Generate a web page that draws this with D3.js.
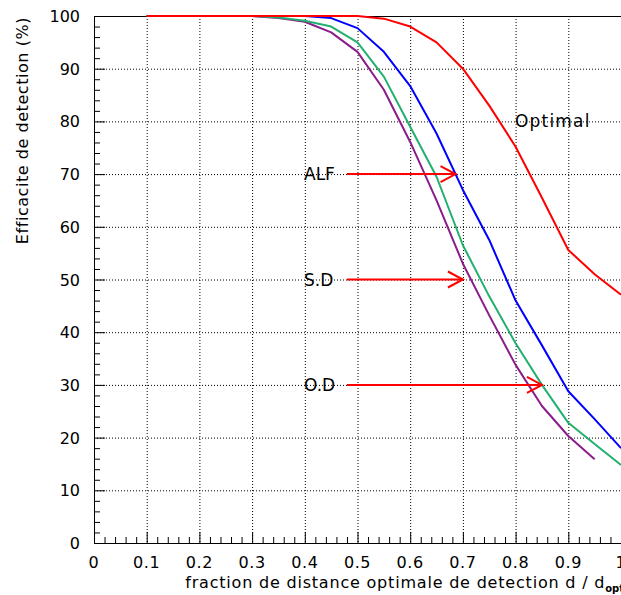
<!DOCTYPE html>
<html><head><meta charset="utf-8">
<script src="https://cdn.jsdelivr.net/npm/d3@7"></script>
<style>body{margin:0;background:#fff}svg{display:block}text{font-family:"DejaVu Sans",sans-serif}</style>
</head><body>
<script>
const fractions = [0.1,0.15,0.2,0.25,0.3,0.35,0.4,0.45,0.5,0.55,0.6,0.65,0.7,0.75,0.8,0.85,0.9,0.95,1.0];
const optimal = [100,100,100,100,100,100,100,100,100,99.5,98,95,90,83,75.2,65.5,55.6,51,47.1];
const alf     = [100,100,100,100,100,100,100,99.6,97.7,93.2,86.7,77.7,67,57.5,46,37.5,28.8,23.5,18];
const sd      = [100,100,100,100,100,99.7,99.1,98,95,88.5,79,69.5,56.5,46.8,37.9,30,22.8,18.8,14.8];
const od      = [100,100,100,100,100,99.6,98.9,96.9,93.2,86,76.1,65,53,43.2,33.8,26,20.3,15.9];
const xTicks = [0,0.1,0.2,0.3,0.4,0.5,0.6,0.7,0.8,0.9,1];
const yTicks = [0,10,20,30,40,50,60,70,80,90,100];
const annotations = [
  {label:"ALF", value:70, from:0.48, to:0.686},
  {label:"S.D", value:50, from:0.48, to:0.70},
  {label:"O.D", value:30, from:0.48, to:0.85}
];

const W=621,H=595, L=94, R=621, T=16, B=543;
const svg=d3.select("body").append("svg").attr("width",W).attr("height",H);
const x=d3.scaleLinear().domain([0,1]).range([L,R]);
const y=d3.scaleLinear().domain([0,100]).range([B,T]);

// grid
const g=svg.append("g").attr("stroke","#000").attr("stroke-width",1).attr("stroke-dasharray","1 2");
xTicks.filter(t=>t>0&&t<1).forEach(t=>g.append("line").attr("x1",x(t)+0.5).attr("x2",x(t)+0.5).attr("y1",T).attr("y2",B));
yTicks.filter(t=>t>0&&t<100).forEach(t=>g.append("line").attr("y1",y(t)+0.5).attr("y2",y(t)+0.5).attr("x1",L).attr("x2",R));

// axes
const xa=svg.append("g").attr("transform",`translate(0,${B})`);
xa.selectAll("line.t").data(d3.range(0,51)).join("line")
  .attr("x1",i=>x(i/50)+0.5).attr("x2",i=>x(i/50)+0.5)
  .attr("y1",0).attr("y2",i=>i%5===0?-11:-6).attr("stroke","#000");
xa.selectAll("text").data(xTicks).join("text")
  .attr("x",d=>x(d)).attr("y",25).attr("text-anchor","middle").attr("font-size",16).attr("letter-spacing",0.6)
  .text(d=>d===0?"0":d===1?"1":d3.format(".1f")(d));
const ya=svg.append("g").attr("transform",`translate(${L},0)`);
ya.selectAll("line.t").data(d3.range(0,51)).join("line")
  .attr("y1",i=>y(i*2)+0.5).attr("y2",i=>y(i*2)+0.5)
  .attr("x1",0).attr("x2",i=>i%5===0?11:6).attr("stroke","#000");
ya.selectAll("text").data(yTicks).join("text")
  .attr("x",-14).attr("y",d=>y(d)+6).attr("text-anchor","end").attr("font-size",16)
  .text(d=>d);
svg.append("rect").attr("x",L+0.5).attr("y",T+0.5).attr("width",R-L).attr("height",B-T)
  .attr("fill","none").attr("stroke","#000").attr("stroke-width",1);

// titles
svg.append("text").attr("transform",`translate(28,${T+1}) rotate(-90)`).attr("text-anchor","end")
  .attr("font-size",16).attr("letter-spacing",0.55).text("Efficacite de detection (%)");
const xt=svg.append("text").attr("x",R+3).attr("y",588).attr("text-anchor","end").attr("font-size",16).attr("letter-spacing",0.8);
xt.append("tspan").text("fraction de distance optimale de detection d / d");
xt.append("tspan").attr("font-size",10).attr("dy",4).attr("font-weight","bold").attr("letter-spacing",0).text("opt");

// curves
const line=d3.line().x((d,i)=>x(fractions[i])).y(d=>y(d));
const series=[[od,"#8b1c8b"],[sd,"#22b070"],[alf,"#0000ff"],[optimal,"#ff0000"]];
series.forEach(([s,c])=>svg.append("path").datum(s).attr("d",line).attr("fill","none")
  .attr("stroke",c).attr("stroke-width",2).attr("stroke-linejoin","round"));

// annotations
annotations.forEach(a=>{
  svg.append("text").attr("x",304).attr("y",y(a.value)+6).attr("font-size",17).text(a.label);
  const ax=svg.append("g").attr("stroke","#ff0000").attr("stroke-width",2).attr("fill","none");
  ax.append("line").attr("x1",x(a.from)).attr("x2",x(a.to)).attr("y1",y(a.value)).attr("y2",y(a.value));
  ax.append("path").attr("d",`M${x(a.to)-15},${y(a.value)-8}L${x(a.to)},${y(a.value)}L${x(a.to)-15},${y(a.value)+8}`);
});
svg.append("text").attr("x",515).attr("y",y(80)+6).attr("font-size",17).attr("letter-spacing",1.2).text("Optimal");
</script>
</body></html>
